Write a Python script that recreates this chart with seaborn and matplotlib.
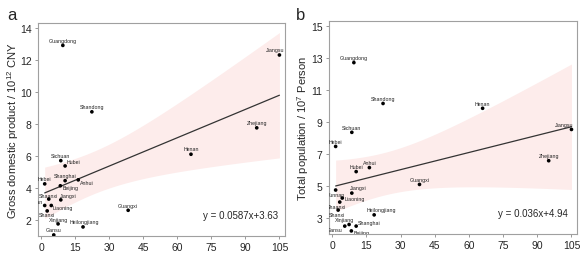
import numpy as np
import pandas as pd
import seaborn as sns
import matplotlib.pyplot as plt

# === Data ===
provinces = ["Guangdong", "Shandong", "Jiangsu", "Zhejiang", "Henan", "Sichuan",
             "Hubei", "Shanghai", "Anhui", "Beijing", "Hebei", "Shaanxi",
             "Jiangxi", "Yunnan", "Liaoning", "Shanxi", "Xinjiang",
             "Heilongjiang", "Gansu", "Guangxi"]
x_vals = [9.5, 22.3, 105, 95, 66, 8.6, 10.5, 10.5, 16.3, 8.4, 1.5, 3.3,
          8.6, 1.5, 4.4, 2.6, 7.4, 18.4, 5.5, 38.3]
gdp = [12.9, 8.75, 12.3, 7.75, 6.1, 5.7, 5.37, 4.45, 4.5, 4.13, 4.25, 3.3,
       3.25, 2.9, 2.9, 2.56, 1.75, 1.56, 1.06, 2.6]
population = [12.7, 10.15, 8.53, 6.58, 9.85, 8.35, 5.9, 2.5, 6.15, 2.2, 7.47, 4.0,
              4.56, 4.75, 4.25, 3.5, 2.6, 3.2, 2.5, 5.1]

df = pd.DataFrame({"province": provinces, "x": x_vals, "gdp": gdp, "pop": population})

# label placement: (dx pt, dy pt, ha, va)
above = (0, 2, "center", "bottom")
labels_a = {p: above for p in provinces}
labels_a.update({
    "Jiangsu": (-3, 2, "center", "bottom"),
    "Hubei": (1, 3, "left", "center"),
    "Anhui": (1.5, -2, "left", "center"),
    "Beijing": (1.8, -1.4, "left", "center"),
    "Shaanxi": (0, 1.0, "center", "bottom"),
    "Jiangxi": (5.5, 1.0, "center", "bottom"),
    "Yunnan": (-1, 1, "right", "bottom"),
    "Liaoning": (1, -1.5, "left", "center"),
    "Shanxi": (-0.5, -1, "center", "top"),
    "Xinjiang": (0, 1.5, "center", "bottom"),
    "Heilongjiang": (1, 2, "center", "bottom"),
})
labels_b = {p: above for p in provinces}
labels_b.update({
    "Jiangsu": (-5, 2, "center", "bottom"),
    "Jiangxi": (5, 2, "center", "bottom"),
    "Yunnan": (0, -1.5, "center", "top"),
    "Liaoning": (1.5, 0, "left", "center"),
    "Shaanxi": (-2, -1.5, "center", "top"),
    "Shanxi": (-1, -1.5, "center", "top"),
    "Heilongjiang": (5, 2, "center", "bottom"),
    "Xinjiang": (-3, 2, "center", "bottom"),
    "Shanghai": (1.5, 0.5, "left", "bottom"),
    "Gansu": (-1.5, -2.5, "right", "center"),
    "Beijing": (1.5, -1, "left", "center"),
})

# === Style ===
sns.set_style("ticks")
plt.rcParams["font.family"] = ["Liberation Sans", "DejaVu Sans"]
plt.rcParams["mathtext.default"] = "regular"

fig = plt.figure(figsize=(5.83, 2.55), dpi=100)
ax_a = fig.add_axes([0.065, 0.071, 0.424, 0.835])
ax_b = fig.add_axes([0.564, 0.078, 0.426, 0.836])

band_color = "#fdeceb"
line_color = "#333333"


def ci_band(x, y, grid, level_t=2.101):
    # analytic 95% confidence band of the OLS fit
    x = np.asarray(x, float)
    y = np.asarray(y, float)
    b, a = np.polyfit(x, y, 1)
    resid = y - (a + b * x)
    s = np.sqrt(np.sum(resid ** 2) / (len(x) - 2))
    sxx = np.sum((x - x.mean()) ** 2)
    se = s * np.sqrt(1 / len(x) + (grid - x.mean()) ** 2 / sxx)
    fit = a + b * grid
    return fit - level_t * se, fit + level_t * se


def panel(ax, ycol, labels, ylabel, yticks, ylim, eq, pad):
    grid = np.linspace(df["x"].min(), df["x"].max(), 200)
    lo, hi = ci_band(df["x"], df[ycol], grid)
    ax.fill_between(grid, lo, hi, color=band_color, lw=0, zorder=1)
    sns.regplot(data=df, x="x", y=ycol, ax=ax, scatter=False, ci=None,
                color=line_color, line_kws={"lw": 0.9, "zorder": 2})
    sns.scatterplot(data=df, x="x", y=ycol, ax=ax, color="black", s=7,
                    edgecolor="none", zorder=5)
    for p, xv, yv in zip(df["province"], df["x"], df[ycol]):
        dx, dy, ha, va = labels[p]
        ax.annotate(p, (xv, yv), xytext=(dx, dy), textcoords="offset points",
                    ha=ha, va=va, fontsize=3.8, color="#222222", clip_on=True)
    ax.set_xlim(-1.5, 107.5)
    ax.set_ylim(*ylim)
    ax.set_xticks(range(0, 106, 15))
    ax.set_yticks(yticks)
    ax.set_xlabel("")
    ax.set_ylabel(ylabel, fontsize=8, labelpad=pad)
    ax.tick_params(labelsize=7.5, length=2.5, width=0.6, color="#888888", pad=2)
    for s in ax.spines.values():
        s.set_color("#a0a0a0")
        s.set_linewidth(0.8)
    ax.text(0.82, 0.1, eq, transform=ax.transAxes, ha="center", va="center",
            fontsize=7)


panel(ax_a, "gdp", labels_a, "Gross domestic product / 10$^{12}$ CNY",
      range(2, 15, 2), (1.0, 14.3), "y = 0.0587x+3.63", -1.0)
panel(ax_b, "pop", labels_b, "Total population / 10$^{7}$ Person",
      range(3, 16, 2), (2.0, 15.3), "y = 0.036x+4.94", 0.0)

fig.text(0.012, 0.94, "a", fontsize=12, va="center")
fig.text(0.508, 0.94, "b", fontsize=12, va="center")

fig.savefig("out.png", dpi=100)
